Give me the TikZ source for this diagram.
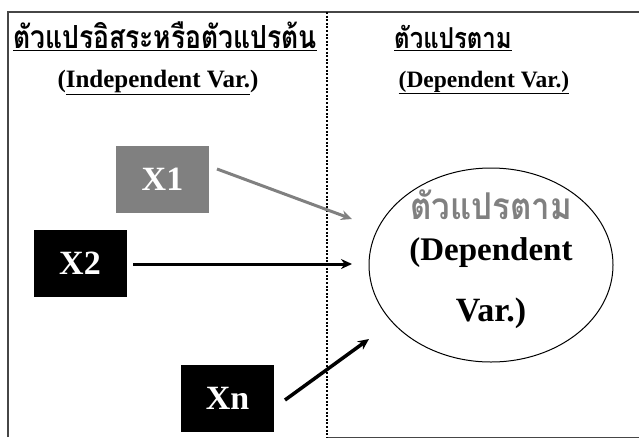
\documentclass[tikz,border=0pt]{standalone}
\usepackage{fontspec}
\setmainfont{Liberation Serif}
\newfontfamily\thai[Script=Thai]{Loma}
\usetikzlibrary{arrows.meta}
\definecolor{boxgray}{RGB}{128,128,128}
\definecolor{framegray}{RGB}{70,70,70}
\tikzset{
  varbox/.style={draw=none,minimum width=93pt,minimum height=67pt,inner sep=0pt,text=white,font=\bfseries\fontsize{34}{36}\selectfont},
  arr/.style={line width=3pt,-{Stealth[length=11pt,width=10pt]}},
  head/.style={anchor=base,inner sep=0pt},
}
\begin{document}
\begin{tikzpicture}[x=1pt,y=-1pt]
\useasboundingbox (0,0) rectangle (639,439);
% frame
\draw[framegray,line width=2pt] (8,437) -- (8,12) -- (639,12);
\draw[framegray,line width=1pt] (327,437) -- (639,437);
\draw[line width=2.2pt,dash pattern=on 2pt off 1.6pt] (327,12) -- (327,437);
% headings
\node[head] (h1) at (165,48) {\scalebox{1}[1.2]{\thai\bfseries\fontsize{26.5}{30}\selectfont\underline{ตัวแปรอิสระหรือตัวแปรต้น}}};
\node[head] (h2) at (158,87) {\bfseries\fontsize{25}{28}\selectfont(\underline{Independent Var.})};
\node[head] (h3) at (453,48) {\scalebox{1}[1.2]{\thai\bfseries\fontsize{24}{28}\selectfont\underline{ตัวแปรตาม}}};
\node[head] (h4) at (484,87) {\bfseries\fontsize{23.5}{28}\selectfont\underline{(Dependent Var.)}};
% boxes
\node[varbox,fill=boxgray] (x1) at (162.5,179) {X1};
\node[varbox,fill=black] (x2) at (80,263.5) {X2};
\node[varbox,fill=black] (xn) at (227.5,398.5) {Xn};
% ellipse
\draw[line width=1pt] (491,265) ellipse [x radius=122, y radius=97];
\node[minimum width=244pt,minimum height=194pt,inner sep=0pt] (dv) at (491,265) {};
\node[head,text=boxgray] (d1) at (491,219) {\scalebox{1}[1.12]{\thai\bfseries\fontsize{33}{36}\selectfont ตัวแปรตาม}};
\node[head] (d2) at (491,260) {\bfseries\fontsize{33}{36}\selectfont(Dependent};
\node[head] (d3) at (491,321) {\bfseries\fontsize{34}{36}\selectfont Var.)};
% arrows
\coordinate (a1s) at (217,169);
\coordinate (a1e) at (352,219);
\coordinate (a2s) at (133,264);
\coordinate (a2e) at (352,264);
\coordinate (a3s) at (285,400);
\coordinate (a3e) at (369,339);
\draw[arr,boxgray] (a1s) -- (a1e);
\draw[arr] (a2s) -- (a2e);
\draw[arr,line width=3.5pt] (a3s) -- (a3e);
\end{tikzpicture}
\end{document}
